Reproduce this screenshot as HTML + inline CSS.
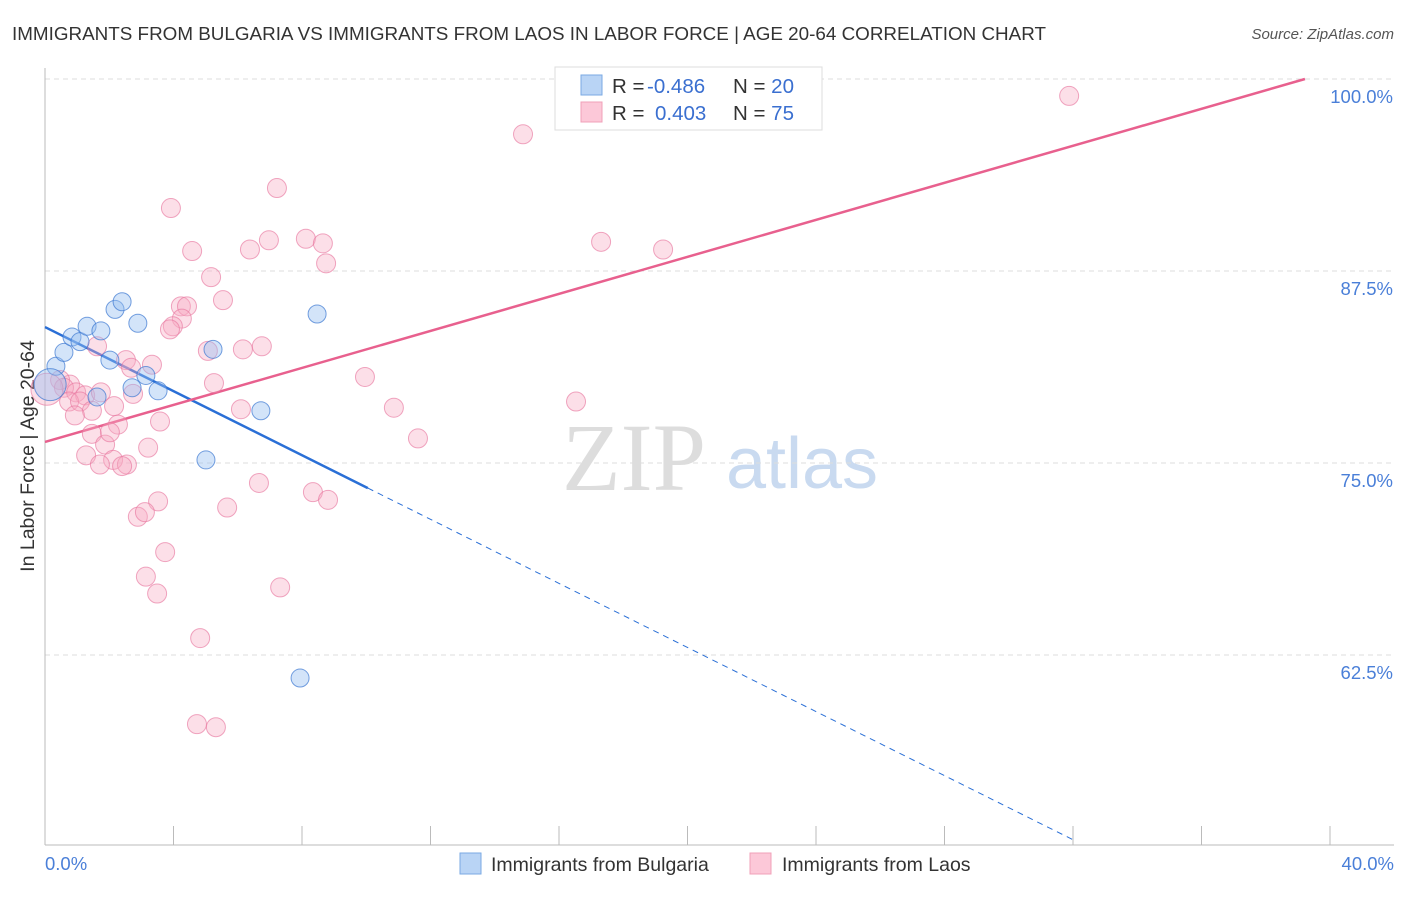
<!DOCTYPE html>
<html><head><meta charset="utf-8"><style>
body{margin:0;background:#fff;font-family:"Liberation Sans",sans-serif;}
svg text{font-family:"Liberation Sans",sans-serif;}
</style></head><body>
<svg id="chart" width="1406" height="892" xmlns="http://www.w3.org/2000/svg">
<text x="12" y="40" font-size="18.5" fill="#333" textLength="1034" lengthAdjust="spacingAndGlyphs">IMMIGRANTS FROM BULGARIA VS IMMIGRANTS FROM LAOS IN LABOR FORCE | AGE 20-64 CORRELATION CHART</text>
<text x="1394" y="39" font-size="15" fill="#555" text-anchor="end" font-style="italic">Source: ZipAtlas.com</text>
<text x="0" y="0" transform="translate(34,456) rotate(-90)" font-size="19.5" fill="#333" text-anchor="middle">In Labor Force | Age 20-64</text>
<g><text x="634" y="490" font-size="96" fill="#ddd" text-anchor="middle" style="font-family:'Liberation Serif',serif">ZIP</text><text x="802" y="488" font-size="72" fill="#c9daf0" text-anchor="middle">atlas</text></g>
<g id="grid"></g><g id="axes"></g><g id="trend"></g><g id="pts"></g>
<g>
<rect x="555" y="67" width="267" height="63" fill="#fff" stroke="#ddd"/>
<rect x="581" y="75" width="21" height="20" fill="#b9d4f5" stroke="#7aa9e3"/>
<rect x="581" y="102" width="21" height="20" fill="#fcc8d8" stroke="#f0a0b8"/>
<text x="612" y="93" font-size="20.5" fill="#333">R = <tspan fill="#3a6fd0" x="647">-0.486</tspan></text>
<text x="733" y="93" font-size="20.5" fill="#333">N = <tspan fill="#3a6fd0">20</tspan></text>
<text x="612" y="120" font-size="20.5" fill="#333">R = <tspan fill="#3a6fd0" x="655">0.403</tspan></text>
<text x="733" y="120" font-size="20.5" fill="#333">N = <tspan fill="#3a6fd0">75</tspan></text>
</g>
<g>
<rect x="460" y="853" width="21" height="21" fill="#b9d4f5" stroke="#7aa9e3"/>
<text x="491" y="871" font-size="19.5" fill="#333">Immigrants from Bulgaria</text>
<rect x="750" y="853" width="21" height="21" fill="#fcc8d8" stroke="#f0a0b8"/>
<text x="782" y="871" font-size="19.5" fill="#333">Immigrants from Laos</text>
</g>
</svg>
<script>
const yTicks=[62.5,75,87.5,100];
const yTickLabels=["62.5%","75.0%","87.5%","100.0%"];
const xTickLabels=["0.0%","40.0%"];
const bulX=[0.34,0.59,0.84,1.09,1.31,1.74,2.18,2.40,2.89,2.02,1.62,2.71,3.14,3.52,5.23,6.72,5.01,8.47,7.94,0.16];
const bulY=[81.3,82.2,83.2,82.9,83.9,83.6,85.0,85.5,84.1,81.7,79.3,79.9,80.7,79.7,82.4,78.4,75.2,84.7,61.0,80.1];
const laoX=[31.88,14.88,7.22,3.92,4.58,6.38,6.97,8.12,8.65,8.75,17.31,19.24,5.17,5.54,4.23,4.42,4.26,3.98,3.89,5.07,6.16,6.75,1.62,2.52,3.33,2.68,5.26,9.96,10.86,11.61,16.53,6.10,0.78,0.47,0.59,0.97,1.25,0.75,1.09,1.46,1.74,2.15,2.74,0.93,1.46,2.27,1.87,2.02,1.28,2.12,1.71,2.55,2.40,3.21,3.58,6.66,8.34,8.81,3.52,5.67,2.89,3.11,3.74,3.14,3.49,7.32,4.83,4.73,5.32,0.06];
const laoY=[98.9,96.4,92.9,91.6,88.8,88.9,89.5,89.6,89.3,88.0,89.4,88.9,87.1,85.6,85.2,85.2,84.4,83.9,83.7,82.3,82.4,82.6,82.6,81.7,81.4,81.2,80.2,80.6,78.6,76.6,79.0,78.5,80.1,80.4,79.9,79.6,79.4,79.0,79.0,78.4,79.6,78.7,79.5,78.1,76.9,77.5,76.2,77.0,75.5,75.2,74.9,74.9,74.8,76.0,77.7,73.7,73.1,72.6,72.5,72.1,71.5,71.8,69.2,67.6,66.5,66.9,63.6,58.0,57.8,79.8];
const bulTrend=[83.85,-1.043];
const laoTrend=[76.37,0.6025];
const X0=45,X1=1330,XMAX=40,Y100=79,PXPER=15.36;
const sx=v=>X0+v*(X1-X0)/XMAX;
const sy=v=>Y100+(100-v)*PXPER;
const NS="http://www.w3.org/2000/svg";
function mk(tag,attrs,parent){const e=document.createElementNS(NS,tag);for(const k in attrs)e.setAttribute(k,attrs[k]);document.getElementById(parent).appendChild(e);return e;}
yTicks.forEach((t,i)=>{
 const g=mk('line',{x1:45,x2:1394,y1:sy(t),y2:sy(t),stroke:'#ddd','stroke-dasharray':'5,4'},'grid');
 
 
 const l=mk('text',{x:1393,y:sy(t)+24,'font-size':18.5,fill:'#4a7fd8','text-anchor':'end'},'axes');
 l.textContent=yTickLabels[i];
 
 
});
const ax=mk('line',{x1:45,x2:45,y1:68,y2:845,stroke:'#bbb'},'axes');


const bx=mk('line',{x1:45,x2:1394,y1:845,y2:845,stroke:'#bbb'},'axes');


for(let i=0;i<=10;i++){const t=mk('line',{x1:sx(i*4),x2:sx(i*4),y1:826,y2:845,stroke:'#bbb'},'axes');
 
 }
[[0,'start',45],[40,'end',1394]].forEach((d,i)=>{const t=mk('text',{x:d[2],y:870,'font-size':18.5,fill:'#4a7fd8','text-anchor':d[1]},'axes');t.textContent=xTickLabels[i];
 
 });
const lb=mk('line',{x1:sx(0),y1:sy(bulTrend[0]),x2:sx(10.05),y2:sy(bulTrend[0]+bulTrend[1]*10.05),stroke:'#2a6fd6','stroke-width':2.5},'trend');


const lbd=mk('line',{x1:sx(10.05),y1:sy(bulTrend[0]+bulTrend[1]*10.05),x2:sx(32),y2:sy(bulTrend[0]+bulTrend[1]*32),stroke:'#2a6fd6','stroke-width':1,'stroke-dasharray':'6,5'},'trend');


const lp=mk('line',{x1:sx(0),y1:sy(laoTrend[0]),x2:sx(39.22),y2:sy(laoTrend[0]+laoTrend[1]*39.22),stroke:'#e8608e','stroke-width':2.5},'trend');


laoX.forEach((v,i)=>{const r=(i===laoX.length-1)?16:9.5;const c=mk('circle',{cx:sx(v),cy:sy(laoY[i]),r:r,fill:'rgba(248,170,195,0.38)',stroke:'rgba(232,120,160,0.65)','stroke-width':1},'pts');
 
 });
bulX.forEach((v,i)=>{const r=(i===bulX.length-1)?16:9;const c=mk('circle',{cx:sx(v),cy:sy(bulY[i]),r:r,fill:'rgba(150,190,240,0.42)',stroke:'rgba(60,120,210,0.7)','stroke-width':1},'pts');
 
 });
</script>
</body></html>
